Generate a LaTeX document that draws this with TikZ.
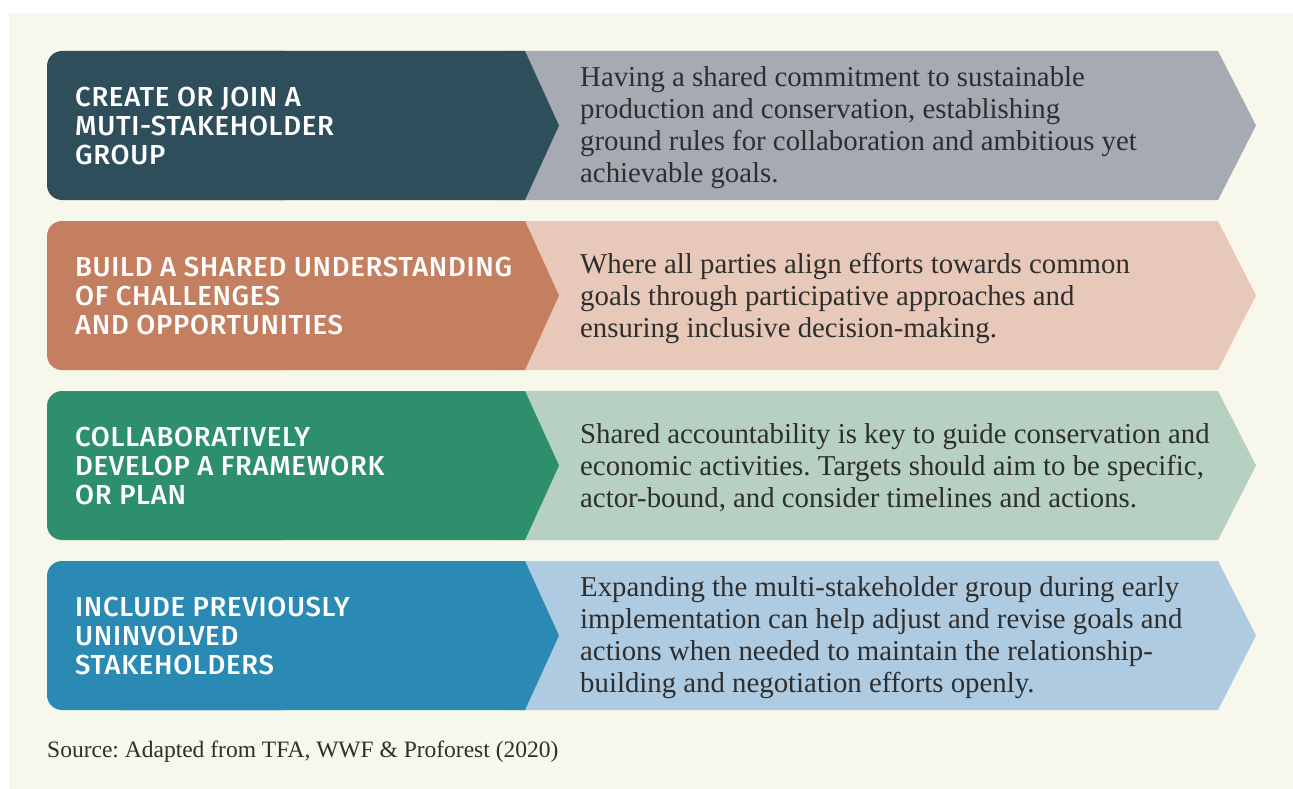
\documentclass[tikz,border=0pt]{standalone}
\usepackage{fontspec}
\setmainfont{Liberation Serif}
\newfontfamily\labelfont{Fira Sans}[UprightFont={* Medium}, LetterSpace=2.5]
\frenchspacing

\definecolor{pagecream}{HTML}{F7F7EC}
\definecolor{bodyink}{HTML}{2E2E2E}
\definecolor{slatedark}{HTML}{2F4E5B}
\definecolor{slatelight}{HTML}{A6AAB2}
\definecolor{claydark}{HTML}{C47F60}
\definecolor{claylight}{HTML}{E8C9B9}
\definecolor{forestdark}{HTML}{2E8F6C}
\definecolor{forestlight}{HTML}{B6D0C2}
\definecolor{oceandark}{HTML}{2B8AB3}
\definecolor{oceanlight}{HTML}{AFCBE1}

\tikzset{
  labeltext/.style={font=\labelfont\fontsize{27.5}{29}\selectfont, text=white,
    align=left, inner sep=0pt, anchor=west},
  desctext/.style={font=\fontsize{28.8}{32}\selectfont, text=bodyink,
    align=left, inner sep=0pt, anchor=west},
}

% #1 name, #2 top edge, #3 dark colour, #4 light colour, #5 label, #6 description
\newcommand{\stepband}[6]{%
  % light arrow behind
  \fill[#4] (500,#2) -- (1218,#2) -- (1256,#2+74.5) -- (1218,#2+149)
            -- (500,#2+149) -- cycle;
  % dark heading block with rounded left side and pointed right side
  \fill[#3, rounded corners=15pt] (47,#2) rectangle (300,#2+149);
  \fill[#3] (120,#2) -- (525,#2) -- (559,#2+74.5) -- (525,#2+149)
            -- (120,#2+149) -- cycle;
  \node[labeltext] (#1label) at (75,#2+74.5) {#5};
  \node[desctext] (#1text) at (580,#2+77) {#6};
}

\begin{document}
\begin{tikzpicture}[x=1pt,y=-1pt]
\useasboundingbox (0,0) rectangle (1293,789);
\fill[white] (0,0) rectangle (1293,789);
\fill[pagecream] (9,13) rectangle (1293,789);

\stepband{create}{51}{slatedark}{slatelight}
  {CREATE OR JOIN A\\MUTI-STAKEHOLDER\\GROUP}
  {Having a shared commitment to sustainable\\production and conservation, establishing\\ground rules for collaboration and ambitious yet\\achievable goals.}

\stepband{build}{221}{claydark}{claylight}
  {BUILD A SHARED UNDERSTANDING\\OF CHALLENGES\\AND OPPORTUNITIES}
  {Where all parties align efforts towards common\\goals through participative approaches and\\ensuring inclusive decision-making.}

\stepband{develop}{391}{forestdark}{forestlight}
  {COLLABORATIVELY\\DEVELOP A FRAMEWORK\\OR PLAN}
  {Shared accountability is key to guide conservation and\\economic activities. Targets should aim to be specific,\\actor-bound, and consider timelines and actions.}

\stepband{include}{561}{oceandark}{oceanlight}
  {INCLUDE PREVIOUSLY\\UNINVOLVED\\STAKEHOLDERS}
  {Expanding the multi-stakeholder group during early\\implementation can help adjust and revise goals and\\actions when needed to maintain the relationship-\\building and negotiation efforts openly.}

\node[anchor=west, inner sep=0pt, font=\fontsize{23.5}{26}\selectfont, text=bodyink]
  (source) at (47,752) {Source: Adapted from TFA, WWF \& Proforest (2020)};
\end{tikzpicture}
\end{document}
